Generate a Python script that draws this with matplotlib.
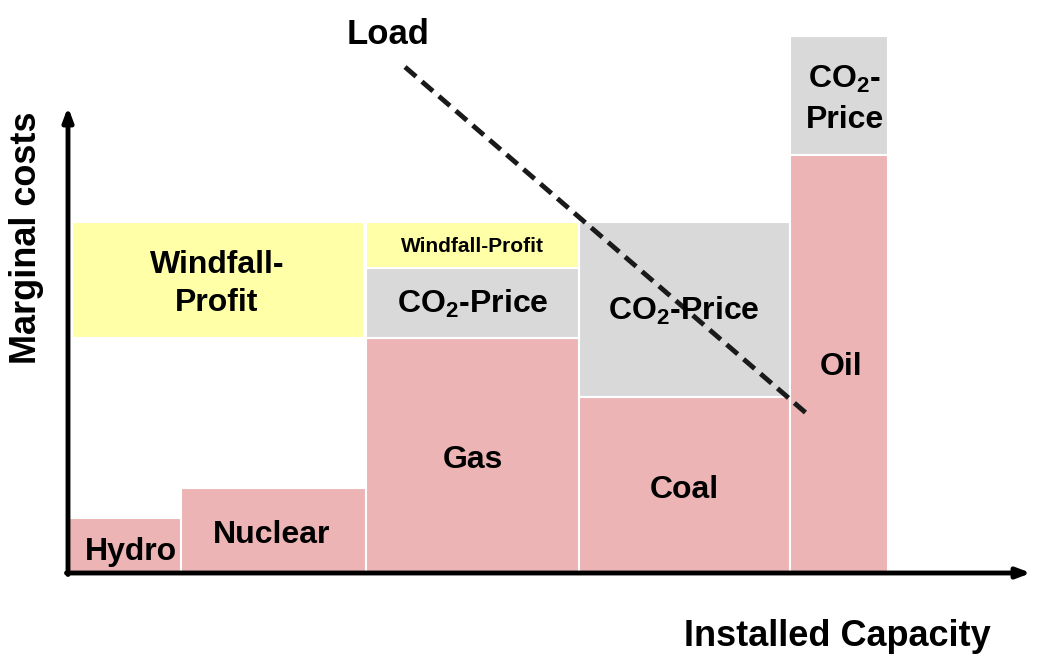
import matplotlib.pyplot as plt
from matplotlib.patches import Rectangle

plt.rcParams['font.family'] = ['Liberation Sans', 'DejaVu Sans']
plt.rcParams['font.weight'] = 'bold'
plt.rcParams['mathtext.fontset'] = 'custom'
plt.rcParams['mathtext.rm'] = 'Liberation Sans:bold'
plt.rcParams['mathtext.bf'] = 'Liberation Sans:bold'

# merit order data (arbitrary units)
plants = ["Hydro", "Nuclear", "Gas", "Coal", "Oil"]
capacity = [113, 185, 213, 210.5, 98.5]
fuel_cost = [55, 85, 235, 176, 418]
co2_cost = [0, 0, 70, 175, 119]
windfall_gas = 46
windfall_low = [235, 351]   # windfall band for hydro + nuclear
load_x = [337, 738]
load_y = [506, 160]

pink = "#ecb4b4"
grey = "#d9d9d9"
yellow = "#ffffa8"

fig = plt.figure(figsize=(10.38, 6.6), dpi=100)
ax = fig.add_axes([68 / 1038, 87 / 660, 970 / 1038, 573 / 660])
ax.set_xlim(0, 970)
ax.set_ylim(0, 573)
ax.axis("off")

left = 0
lefts = []
for cap, fc, cc in zip(capacity, fuel_cost, co2_cost):
    lefts.append(left)
    ax.add_patch(Rectangle((left, 0), cap, fc, facecolor=pink, edgecolor="white", lw=1.5))
    if cc > 0:
        ax.add_patch(Rectangle((left, fc), cap, cc, facecolor=grey, edgecolor="white", lw=1.5))
    left += cap

# windfall on gas
g = plants.index("Gas")
ax.add_patch(Rectangle((lefts[g], fuel_cost[g] + co2_cost[g]), capacity[g], windfall_gas,
                       facecolor=yellow, edgecolor="white", lw=1.5))
# windfall for hydro + nuclear
ax.add_patch(Rectangle((4, windfall_low[0]), capacity[0] + capacity[1] - 6,
                       windfall_low[1] - windfall_low[0], facecolor=yellow, edgecolor="white", lw=1.5))

# labels
fs = 23
mid = [l + c / 2 for l, c in zip(lefts, capacity)]
ax.text(63, 21, "Hydro", ha="center", va="center", fontsize=fs)
ax.text(mid[1] - 2, 38, "Nuclear", ha="center", va="center", fontsize=fs)
ax.text(mid[2], 113, "Gas", ha="center", va="center", fontsize=fs)
ax.text(mid[3], 83, "Coal", ha="center", va="center", fontsize=fs)
ax.text(mid[4] + 2, 206, "Oil", ha="center", va="center", fontsize=fs)
ax.text(mid[2], 269, "CO$_2$-Price", ha="center", va="center", fontsize=fs)
ax.text(mid[3], 262, "CO$_2$-Price", ha="center", va="center", fontsize=fs)
ax.text(mid[4] + 6, 474, "CO$_2$-\nPrice", ha="center", va="center", fontsize=fs,
        linespacing=1.45)
ax.text(mid[2], 326, "Windfall-Profit", ha="center", va="center", fontsize=15)
ax.text(149, 289, "Windfall-\nProfit", ha="center", va="center", fontsize=fs,
        linespacing=1.32)

# load line
ax.plot(load_x, load_y, color="#1a1a1a", lw=3.5, ls=(0, (3, 1.6)), clip_on=False)
ax.text(320, 538, "Load", ha="center", va="center", fontsize=25, clip_on=False)

# axes arrows
ax.annotate("", xy=(0, 466), xytext=(0, -1.5),
            arrowprops=dict(arrowstyle="-|>,head_width=0.3,head_length=0.8", lw=3.5, color="black",
                            shrinkA=0, shrinkB=0))
ax.annotate("", xy=(963, 0), xytext=(-1.5, 0),
            arrowprops=dict(arrowstyle="-|>,head_width=0.3,head_length=0.8", lw=3.5, color="black",
                            shrinkA=0, shrinkB=0))

fig.text(27 / 1038, 1 - 238 / 660, "Marginal costs", rotation=90, ha="center", va="center",
         fontsize=26)
fig.text(837 / 1038, 1 - 636 / 660, "Installed Capacity", ha="center", va="center", fontsize=26)

fig.savefig("out.png", dpi=100)
